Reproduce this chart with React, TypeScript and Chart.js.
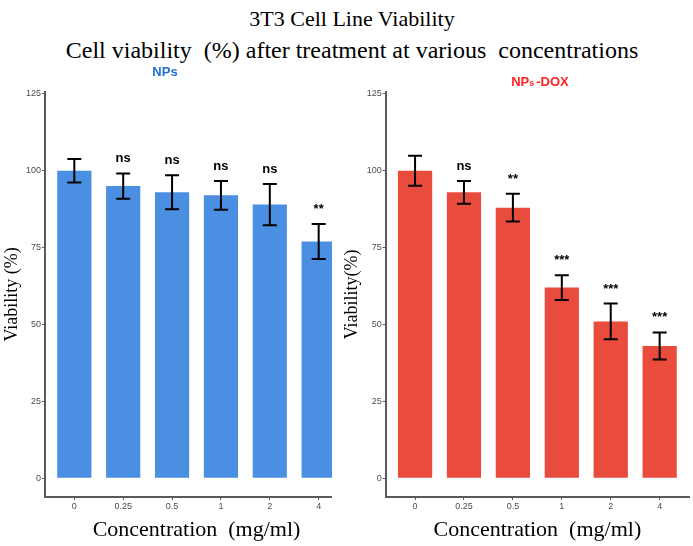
import { useEffect, useRef } from "react";
import { Chart, registerables } from "chart.js";

Chart.register(...registerables);

// Concentrations tested (mg/ml) and tick values of the viability axis
const CONCENTRATIONS = ["0", "0.25", "0.5", "1", "2", "4"];
const Y_TICKS = [0, 25, 50, 75, 100, 125];

// NPs: mean viability (%), error half-width, significance vs control
const NPS_VIABILITY = [100, 95, 93, 92, 89, 77];
const NPS_ERROR = [3.8, 4.1, 5.5, 4.7, 6.7, 5.7];
const NPS_SIGNIF = ["", "ns", "ns", "ns", "ns", "**"];

// NPs-DOX: mean viability (%), error half-width, significance vs control
const DOX_VIABILITY = [100, 93, 88, 62, 51, 43];
const DOX_ERROR = [4.9, 3.7, 4.5, 4.0, 5.8, 4.4];
const DOX_SIGNIF = ["", "ns", "**", "***", "***", "***"];

const SERIF = "'Liberation Serif', 'Times New Roman', serif";
const SANS = "'Liberation Sans', Arial, sans-serif";

function makeErrorBarPlugin(values: number[], errors: number[], signif: string[]) {
  return {
    id: "errorBars",
    afterDatasetsDraw(chart: any) {
      const { ctx } = chart;
      const yScale = chart.scales.y;
      const meta = chart.getDatasetMeta(0);
      ctx.save();
      ctx.strokeStyle = "#000";
      ctx.lineWidth = 2;
      meta.data.forEach((bar: any, i: number) => {
        const x = bar.x;
        const top = yScale.getPixelForValue(values[i] + errors[i]);
        const bottom = yScale.getPixelForValue(values[i] - errors[i]);
        const cap = 7;
        ctx.beginPath();
        ctx.moveTo(x, top);
        ctx.lineTo(x, bottom);
        ctx.moveTo(x - cap, top);
        ctx.lineTo(x + cap, top);
        ctx.moveTo(x - cap, bottom);
        ctx.lineTo(x + cap, bottom);
        ctx.stroke();
        if (signif[i]) {
          ctx.fillStyle = "#000";
          ctx.font = `bold 13px ${SANS}`;
          ctx.textAlign = "center";
          ctx.textBaseline = "alphabetic";
          ctx.fillText(signif[i], x, top - 11);
        }
      });
      ctx.restore();
    },
  };
}

function makeConfig(
  values: number[],
  errors: number[],
  signif: string[],
  color: string,
  yAxisWidth: number,
  yTitle: string
): any {
  const tickColor = "#4d4d4d";
  const axisColor = "#5a5a5a";
  return {
    type: "bar",
    data: {
      datasets: [
        {
          data: values.map((v, i) => ({ x: i, y: v })),
          backgroundColor: color,
          borderWidth: 0,
          categoryPercentage: 1,
          barPercentage: 0.7,
        },
      ],
    },
    plugins: [makeErrorBarPlugin(values, errors, signif)],
    options: {
      responsive: false,
      animation: false,
      layout: { padding: { top: 31.7, right: 4, bottom: 0, left: 0 } },
      plugins: {
        legend: { display: false },
        title: { display: false },
        tooltip: { enabled: false },
      },
      scales: {
        x: {
          type: "linear",
          offset: false,
          min: -0.6,
          max: 5.6,
          afterBuildTicks: (s: any) => {
            s.ticks = CONCENTRATIONS.map((_, i) => ({ value: i }));
          },
          afterFit: (s: any) => {
            s.height = 49;
          },
          grid: {
            offset: false,
            drawOnChartArea: false,
            drawTicks: true,
            tickLength: 3,
            color: axisColor,
          },
          border: { display: true, color: axisColor, width: 2 },
          ticks: {
            color: tickColor,
            padding: 1,
            font: { family: SANS, size: 9 },
            maxRotation: 0,
            autoSkip: false,
            callback: (value: number) => CONCENTRATIONS[Math.round(value)] ?? "",
          },
          title: {
            display: true,
            text: "Concentration  (mg/ml)",
            color: "#000",
            font: { family: SERIF, size: 22 },
            padding: { top: 0, bottom: 3 },
          },
        },
        y: {
          type: "linear",
          min: -6.1,
          max: 125.7,
          afterBuildTicks: (s: any) => {
            s.ticks = Y_TICKS.map((v) => ({ value: v }));
          },
          afterFit: (s: any) => {
            s.width = yAxisWidth;
          },
          grid: {
            drawOnChartArea: false,
            drawTicks: true,
            tickLength: 3,
            color: axisColor,
          },
          border: { display: true, color: axisColor, width: 2 },
          ticks: {
            color: tickColor,
            padding: 1,
            font: { family: SANS, size: 9 },
          },
          title: {
            display: true,
            text: yTitle,
            color: "#000",
            font: { family: SERIF, size: 18 },
            padding: { top: 1.5, bottom: 0 },
          },
        },
      },
    },
  };
}

export default function App() {
  const leftRef = useRef<HTMLCanvasElement>(null);
  const rightRef = useRef<HTMLCanvasElement>(null);

  useEffect(() => {
    const left = new Chart(
      leftRef.current!,
      makeConfig(NPS_VIABILITY, NPS_ERROR, NPS_SIGNIF, "#4a8fe2", 45, "Viability (%)")
    );
    const right = new Chart(
      rightRef.current!,
      makeConfig(DOX_VIABILITY, DOX_ERROR, DOX_SIGNIF, "#e94b3d", 45.7, "Viability(%)")
    );
    return () => {
      left.destroy();
      right.destroy();
    };
  }, []);

  return (
    <div
      style={{
        position: "absolute",
        left: 0,
        top: 0,
        width: 693,
        height: 546,
        background: "#fff",
        overflow: "hidden",
      }}
    >
      <div
        style={{
          position: "absolute",
          left: 52,
          top: 5,
          width: 600,
          textAlign: "center",
          fontFamily: SERIF,
          fontSize: 22,
          lineHeight: "28px",
          color: "#000",
        }}
      >
        3T3 Cell Line Viability
      </div>
      <div
        style={{
          position: "absolute",
          left: 0,
          top: 35,
          width: 704,
          textAlign: "center",
          fontFamily: SERIF,
          fontSize: 24,
          lineHeight: "30px",
          color: "#000",
          whiteSpace: "pre",
        }}
      >
        {"Cell viability  (%) after treatment at various  concentrations"}
      </div>
      <div
        style={{
          position: "absolute",
          left: 0,
          top: 60,
          width: 332,
          height: 486,
          overflow: "hidden",
        }}
      >
        <canvas ref={leftRef} width={352} height={486} style={{ display: "block" }} />
      </div>
      <div style={{ position: "absolute", left: 340, top: 60, width: 353, height: 486 }}>
        <canvas ref={rightRef} width={353} height={486} style={{ display: "block" }} />
      </div>
      <div
        style={{
          position: "absolute",
          left: 135,
          top: 64,
          width: 60,
          textAlign: "center",
          fontFamily: SANS,
          fontWeight: "bold",
          fontSize: 13,
          lineHeight: "16px",
          color: "#1f6fd0",
        }}
      >
        NPs
      </div>
      <div
        style={{
          position: "absolute",
          left: 500,
          top: 74,
          width: 80,
          textAlign: "center",
          fontFamily: SANS,
          fontWeight: "bold",
          fontSize: 13,
          lineHeight: "16px",
          color: "#ff2424",
        }}
      >
        NP<span style={{ fontSize: 9 }}>s</span>
        <span style={{ marginLeft: 2 }}>-DOX</span>
      </div>
    </div>
  );
}
